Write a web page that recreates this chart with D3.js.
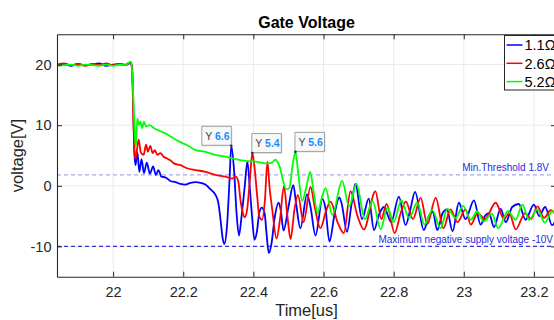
<!DOCTYPE html>
<html><head><meta charset="utf-8">
<script src="https://cdn.jsdelivr.net/npm/d3@7"></script>
<style>body{margin:0;background:#fff}svg{display:block;font-family:"Liberation Sans",Arial,Helvetica,sans-serif}</style>
</head><body><svg id="c" width="554" height="320"></svg>
<script>
const xTicks = [22, 22.2, 22.4, 22.6, 22.8, 23, 23.2];
const yTicks = [-10, 0, 10, 20];
const seriesNames = ["1.1Ω", "2.6Ω", "5.2Ω"];
const seriesColors = ["#0000ff", "#ff0000", "#00ff00"];

const blue = [[21.840,19.9],[21.860,20.1],[21.880,19.8],[21.900,20.1],[21.920,19.9],[21.940,20.0],[21.960,20.2],[21.980,19.8],[22.000,20.0],[22.020,20.1],[22.035,19.9],[22.046,20.2],[22.050,20.4],[22.054,19.6],[22.058,12.0],[22.061,5.0],[22.064,3.4],[22.069,5.6],[22.075,2.3],[22.081,4.4],[22.088,2.1],[22.096,3.8],[22.105,2.0],[22.114,3.2],[22.122,1.8],[22.129,2.6],[22.138,1.5],[22.149,1.4],[22.163,0.8],[22.178,0.6],[22.192,0.3],[22.206,0.2],[22.221,0.5],[22.235,0.6],[22.249,0.5],[22.263,0.2],[22.278,-0.6],[22.292,-1.5],[22.300,-2.8],[22.306,-5.4],[22.312,-8.5],[22.317,-9.6],[22.325,-6.5],[22.332,1.0],[22.337,6.6],[22.345,2.5],[22.352,-4.5],[22.359,-8.2],[22.366,-5.2],[22.375,-0.3],[22.383,4.0],[22.390,-0.5],[22.397,-5.6],[22.403,-8.9],[22.410,-7.6],[22.417,-4.4],[22.424,-3.6],[22.432,-4.5],[22.437,-7.5],[22.444,-11.1],[22.452,-9.4],[22.460,-5.6],[22.472,-2.8],[22.478,-4.0],[22.486,-7.4],[22.500,-3.5],[22.514,0.1],[22.522,-3.0],[22.534,-7.0],[22.553,-1.4],[22.563,-3.5],[22.577,-8.2],[22.597,-2.2],[22.605,-3.5],[22.617,-9.2],[22.632,-4.5],[22.645,-1.9],[22.652,-3.0],[22.667,-7.6],[22.680,-3.0],[22.691,0.3],[22.710,-5.5],[22.729,-2.1],[22.744,-7.3],[22.758,-4.8],[22.772,-3.5],[22.793,-6.0],[22.815,-1.8],[22.834,-6.5],[22.848,-3.8],[22.861,-1.0],[22.886,-7.3],[22.900,-5.0],[22.912,-4.3],[22.924,-7.3],[22.940,-4.5],[22.952,-3.9],[22.968,-7.5],[22.986,-2.8],[23.005,-5.5],[23.029,-2.4],[23.048,-6.4],[23.060,-5.0],[23.072,-4.5],[23.086,-6.8],[23.105,-3.8],[23.120,-6.0],[23.138,-3.5],[23.157,-3.0],[23.176,-5.6],[23.200,-3.1],[23.215,-5.0],[23.232,-3.5],[23.252,-6.5],[23.263,-5.5]];

const red = [[21.840,20.0],[21.860,20.2],[21.880,19.9],[21.900,20.1],[21.920,19.8],[21.940,20.1],[21.960,19.9],[21.980,20.2],[22.000,19.9],[22.020,20.1],[22.035,20.0],[22.046,20.3],[22.050,20.3],[22.054,19.2],[22.058,10.5],[22.061,5.5],[22.064,4.5],[22.068,6.0],[22.073,7.6],[22.079,5.5],[22.087,5.1],[22.094,6.8],[22.099,5.6],[22.106,6.6],[22.113,5.4],[22.119,5.9],[22.126,5.1],[22.135,5.4],[22.144,4.8],[22.154,4.5],[22.163,4.2],[22.173,3.7],[22.192,3.4],[22.211,2.9],[22.235,2.6],[22.263,2.3],[22.292,1.8],[22.320,1.5],[22.340,1.2],[22.349,1.5],[22.357,0.7],[22.363,-2.3],[22.370,-4.5],[22.375,-5.2],[22.382,-4.0],[22.390,1.0],[22.397,5.4],[22.403,3.2],[22.411,-1.8],[22.417,-5.1],[22.425,-5.6],[22.433,-2.3],[22.440,4.0],[22.446,-0.2],[22.454,-4.0],[22.466,-8.7],[22.476,-5.5],[22.487,-0.1],[22.497,-5.0],[22.506,-8.8],[22.517,-4.0],[22.527,-1.5],[22.543,-6.0],[22.563,-0.2],[22.575,-3.5],[22.591,-7.0],[22.608,-4.0],[22.620,-2.6],[22.640,-6.0],[22.658,-7.8],[22.677,-0.9],[22.697,-5.0],[22.715,-7.2],[22.748,-0.9],[22.765,-5.5],[22.780,-3.0],[22.803,-7.8],[22.820,-4.5],[22.835,-2.6],[22.855,-5.5],[22.877,-2.0],[22.896,-6.3],[22.920,-2.0],[22.942,-7.0],[22.962,-3.9],[22.982,-6.0],[23.005,-3.9],[23.020,-6.4],[23.040,-4.5],[23.060,-5.5],[23.091,-2.8],[23.115,-5.5],[23.130,-4.5],[23.148,-7.2],[23.175,-4.5],[23.192,-5.5],[23.210,-3.4],[23.229,-5.3],[23.248,-4.0],[23.263,-4.8]];

const green = [[21.840,19.8],[21.860,19.9],[21.880,20.0],[21.900,19.8],[21.920,20.0],[21.940,19.9],[21.960,19.8],[21.980,20.0],[22.000,19.8],[22.020,20.0],[22.035,19.9],[22.048,20.4],[22.052,20.2],[22.056,17.0],[22.060,11.0],[22.063,7.5],[22.065,6.5],[22.069,11.1],[22.074,10.0],[22.078,10.6],[22.083,9.5],[22.088,10.6],[22.094,9.8],[22.104,10.0],[22.117,9.5],[22.135,9.0],[22.154,8.5],[22.173,7.8],[22.192,7.2],[22.211,6.7],[22.235,5.9],[22.263,5.6],[22.292,5.1],[22.320,4.8],[22.349,4.4],[22.377,4.1],[22.406,4.0],[22.434,3.7],[22.452,3.8],[22.463,4.3],[22.470,3.8],[22.476,3.0],[22.484,1.0],[22.494,-0.6],[22.503,-0.3],[22.512,3.5],[22.520,5.6],[22.528,2.0],[22.539,-2.5],[22.550,-0.5],[22.562,2.3],[22.572,-1.0],[22.583,-4.5],[22.595,-2.0],[22.606,-0.4],[22.625,-4.8],[22.653,0.8],[22.673,-3.4],[22.694,0.3],[22.718,-5.5],[22.740,-2.5],[22.763,-7.2],[22.782,-3.6],[22.800,-6.0],[22.822,-2.4],[22.844,-5.3],[22.867,-2.8],[22.888,-6.4],[22.910,-4.0],[22.934,-7.0],[22.953,-3.8],[22.977,-5.3],[22.998,-3.3],[23.020,-5.6],[23.038,-4.2],[23.057,-5.9],[23.080,-4.6],[23.098,-7.0],[23.126,-4.2],[23.148,-5.6],[23.167,-3.1],[23.186,-5.6],[23.210,-3.9],[23.231,-6.1],[23.252,-4.2],[23.263,-5.0]];

const tipSeries = [0, 1, 2];
const tipT = [22.337, 22.397, 22.520];
const tipV = [6.6, 5.4, 5.6];
const tipSide = [-1, 1, 1];

const refLevels = [1.8, -10];
const refLabels = ["Min.Threshold 1.8V", "Maximum negative supply voltage -10V"];
const refColors = ["#a9a9f2", "#3434d6"];

const series = [blue, red, green];

const svg = d3.select("#c");
const m = {l: 57, r: 556, t: 34.3, b: 276.7};
const x = d3.scaleLinear().domain([21.84, 23.263]).range([m.l, m.r]);
const y = d3.scaleLinear().domain([-15, 25]).range([m.b, m.t]);
const ink = "#262626";

svg.append("rect").attr("width", 554).attr("height", 320).attr("fill", "#fff");

// grid
const grid = svg.append("g");
grid.selectAll(".gx").data(xTicks).join("line")
  .attr("x1", d => x(d)).attr("x2", d => x(d)).attr("y1", m.t).attr("y2", m.b)
  .attr("stroke", "#ebebeb").attr("stroke-width", 1);
grid.selectAll(".gy").data(yTicks).join("line")
  .attr("x1", m.l).attr("x2", m.r).attr("y1", d => y(d)).attr("y2", d => y(d))
  .attr("stroke", "#ebebeb").attr("stroke-width", 1);

svg.append("clipPath").attr("id", "clip").append("rect")
  .attr("x", m.l).attr("y", m.t).attr("width", m.r - m.l).attr("height", m.b - m.t);

// reference lines
const refG = svg.append("g").attr("clip-path", "url(#clip)");
refG.selectAll("line").data(refLevels).join("line")
  .attr("x1", m.l).attr("x2", m.r).attr("y1", d => y(d)).attr("y2", d => y(d))
  .attr("stroke", (d, i) => refColors[i]).attr("stroke-width", 1.1)
  .attr("stroke-dasharray", "4,3");

// series
const line = d3.line().x(d => x(d[0])).y(d => y(d[1])).curve(d3.curveMonotoneX);
const lg = svg.append("g").attr("clip-path", "url(#clip)");
series.forEach((s, i) => {
  lg.append("path").datum(s).attr("d", line).attr("fill", "none")
    .attr("stroke", seriesColors[i]).attr("stroke-width", 1.8)
    .attr("stroke-linejoin", "round");
});

// reference labels
svg.selectAll(".rl").data(refLevels).join("text")
  .attr("x", (d, i) => i === 0 ? m.r - 7 : m.r - 3)
  .attr("y", d => y(d) - 3.6)
  .attr("text-anchor", "end").attr("font-size", "10px")
  .attr("fill", "#2a2ae0")
  .text((d, i) => refLabels[i]);

// axes
const fmt = d => String(d);
const xb = svg.append("g").attr("transform", `translate(0,${m.b})`)
  .call(d3.axisBottom(x).tickValues(xTicks).tickFormat(fmt).tickSizeInner(-5).tickSizeOuter(0).tickPadding(10.5));
const xt = svg.append("g").attr("transform", `translate(0,${m.t})`)
  .call(d3.axisTop(x).tickValues(xTicks).tickFormat("").tickSizeInner(-5).tickSizeOuter(0));
const yl = svg.append("g").attr("transform", `translate(${m.l},0)`)
  .call(d3.axisLeft(y).tickValues(yTicks).tickFormat(fmt).tickSizeInner(-5).tickSizeOuter(0).tickPadding(5.5));
const yr = svg.append("g").attr("transform", `translate(${m.r},0)`)
  .call(d3.axisRight(y).tickValues(yTicks).tickFormat("").tickSizeInner(-5).tickSizeOuter(0));
[xb, xt, yl, yr].forEach(g => {
  g.select(".domain").attr("stroke", ink).attr("stroke-width", 1.1);
  g.selectAll(".tick line").attr("stroke", ink).attr("stroke-width", 1);
  g.selectAll(".tick text").attr("fill", ink).attr("font-size", "14.5px")
    .attr("font-family", '"Liberation Sans",Arial,sans-serif');
});

// data tips
tipT.forEach((t, i) => {
  const px = x(t), py = y(tipV[i]);
  const g = svg.append("g");
  const bw = 29.5, bh = 19;
  const bx = tipSide[i] < 0 ? px - bw : px - 0.5, by = py - bh - 0.5;
  g.append("rect").attr("x", bx + 1).attr("y", by + 1).attr("width", bw).attr("height", bh)
    .attr("fill", "#d4d4d4");
  g.append("rect").attr("x", bx).attr("y", by).attr("width", bw).attr("height", bh)
    .attr("fill", "#f8f8f8").attr("stroke", "#a0a0a0").attr("stroke-width", 1);
  const tx = g.append("text").attr("x", bx + 3.5).attr("y", by + 13.5).attr("font-size", "10.5px");
  tx.append("tspan").attr("fill", "#404040").text("Y ");
  tx.append("tspan").attr("fill", "#1a8cff").attr("font-weight", "bold").text(tipV[i].toFixed(1));
  g.append("circle").attr("cx", px).attr("cy", py).attr("r", 1.3).attr("fill", "#303030");
});

// legend
const lgx = 504.5, lgy = 35.5;
svg.append("rect").attr("x", lgx).attr("y", lgy).attr("width", 70).attr("height", 54.5)
  .attr("fill", "#fff").attr("stroke", ink).attr("stroke-width", 1);
seriesNames.forEach((n, i) => {
  const ly = 45 + i * 18.3;
  svg.append("line").attr("x1", lgx + 2).attr("x2", lgx + 18).attr("y1", ly).attr("y2", ly)
    .attr("stroke", seriesColors[i]).attr("stroke-width", 1.5);
  svg.append("text").attr("x", lgx + 20).attr("y", ly).attr("dy", "0.36em")
    .attr("font-size", "14.5px").attr("fill", "#000").text(n);
});

// title & labels
svg.append("text").attr("x", (m.l + m.r) / 2).attr("y", 27.5).attr("text-anchor", "middle")
  .attr("font-size", "16px").attr("font-weight", "bold").attr("fill", "#000").text("Gate Voltage");
svg.append("text").attr("x", (m.l + m.r) / 2).attr("y", 316).attr("text-anchor", "middle")
  .attr("font-size", "16.5px").attr("fill", ink).text("Time[us]");
svg.append("text").attr("transform", `translate(22.5,${(m.t + m.b) / 2}) rotate(-90)`)
  .attr("text-anchor", "middle").attr("font-size", "16.5px").attr("fill", ink).text("voltage[V]");
</script>
</body></html>
